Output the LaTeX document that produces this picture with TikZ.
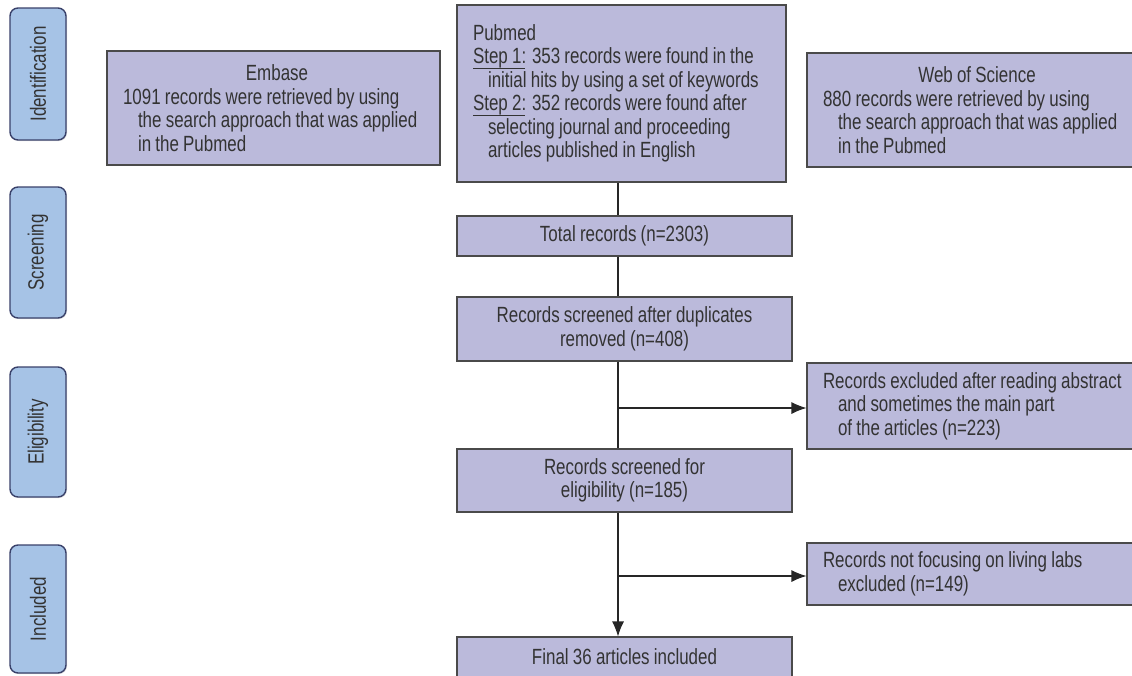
\documentclass[tikz,border=0pt]{standalone}
\usepackage{fontspec}
\setmainfont{Liberation Sans}[FakeStretch=0.77,WordSpace=0.9]
\usetikzlibrary{arrows.meta,shadows}
\definecolor{boxfill}{HTML}{BBBADB}
\definecolor{boxdraw}{HTML}{4A4A4A}
\definecolor{stagefill}{HTML}{A6C3E6}
\definecolor{stagedraw}{HTML}{39416A}
\definecolor{txt}{HTML}{333333}
\newcommand\stepul[1]{\setbox0\hbox{#1}\rlap{\rule[-5pt]{\dimexpr\wd0+3pt\relax}{0.7pt}}\box0}
\newcommand\natsp{\spaceskip=0pt\xspaceskip=0pt\relax}
\begin{document}
\begin{tikzpicture}[x=1pt,y=-1pt,
  every node/.style={text=txt,font=\fontsize{22}{23.5}\selectfont},
  box/.style={draw=boxdraw,fill=boxfill,line width=1.1pt,inner xsep=16pt,inner ysep=0pt,align=left},
  stage/.style={draw=stagedraw,fill=stagefill,line width=1.4pt,rounded corners=8pt,rotate=90,
    minimum height=56pt,inner sep=0pt,
    drop shadow={shadow xshift=1pt,shadow yshift=-1pt,opacity=0.25}},
  link/.style={draw=black!85,line width=1.1pt},
  arr/.style={link,-{Latex[length=15pt,width=12pt]}}]
\useasboundingbox (0,0) rectangle (1132,675);
\fill[white] (0,0) rectangle (1132,675);

% stage labels
\node[stage,minimum width=132pt] (s1) at (38,74) {Identification};
\node[stage,minimum width=131pt] (s2) at (38,252.5) {Screening};
\node[stage,minimum width=130pt] (s3) at (38,432) {Eligibility};
\node[stage,minimum width=128pt] (s4) at (38,609) {Included};

% sources
\node[box,text width=301pt,minimum height=114pt] (emb) at (273.5,108)
  {\natsp\makebox[308pt]{Embase}\\
   \mbox{1091 records were retrieved by using}\\
   \mbox{\hspace*{15pt}the search approach that was applied}\\
   \mbox{\hspace*{15pt}in the Pubmed}};
\node[box,text width=297pt,minimum height=177pt] (pub) at (621.5,93.5)
  {\natsp Pubmed\\
   \mbox{\stepul{Step 1}: 353 records were found in the}\\
   \mbox{\hspace*{15pt}initial hits by using a set of keywords}\\
   \mbox{\stepul{Step 2}: 352 records were found after}\\
   \mbox{\hspace*{15pt}selecting journal and proceeding}\\
   \mbox{\hspace*{15pt}articles published in English}};
\node[box,text width=301pt,minimum height=114pt] (wos) at (973.5,110)
  {\natsp\makebox[308pt]{Web of Science}\\
   \mbox{880 records were retrieved by using}\\
   \mbox{\hspace*{15pt}the search approach that was applied}\\
   \mbox{\hspace*{15pt}in the Pubmed}};

% main flow
\node[box,minimum width=335pt,minimum height=40pt,align=center] (tot) at (624.5,236) {Total records (n=2303)};
\node[box,minimum width=335pt,minimum height=64pt,align=center] (scr) at (624.5,329) {Records screened after duplicates\\removed (n=408)};
\node[box,minimum width=335pt,minimum height=63pt,align=center] (elig) at (624.5,480.5) {Records screened for\\eligibility (n=185)};
\node[box,minimum width=335pt,minimum height=40pt,align=center] (fin) at (624.5,657) {Final 36 articles included};

% exclusions
\node[box,text width=301pt,minimum height=86pt] (ex1) at (973.5,406)
  {\natsp\mbox{Records excluded after reading abstract}\\
   \mbox{\hspace*{15pt}and sometimes the main part}\\
   \mbox{\hspace*{15pt}of the articles (n=223)}};
\node[box,text width=301pt,minimum height=62pt] (ex2) at (973.5,574)
  {\natsp\mbox{Records not focusing on living labs}\\
   \mbox{\hspace*{15pt}excluded (n=149)}};

% connectors
\coordinate (tx) at (618,0);
\coordinate (b1) at (618,408);
\coordinate (b2) at (618,576);
\draw[link] (pub.south -| tx) -- (tot.north -| tx);
\draw[link] (tot.south -| tx) -- (scr.north -| tx);
\draw[link] (scr.south -| tx) -- (elig.north -| tx);
\draw[arr] (b1) -- (b1 -| ex1.west);
\draw[arr] (elig.south -| tx) -- (fin.north -| tx);
\draw[arr] (b2) -- (b2 -| ex2.west);
\end{tikzpicture}
\end{document}
